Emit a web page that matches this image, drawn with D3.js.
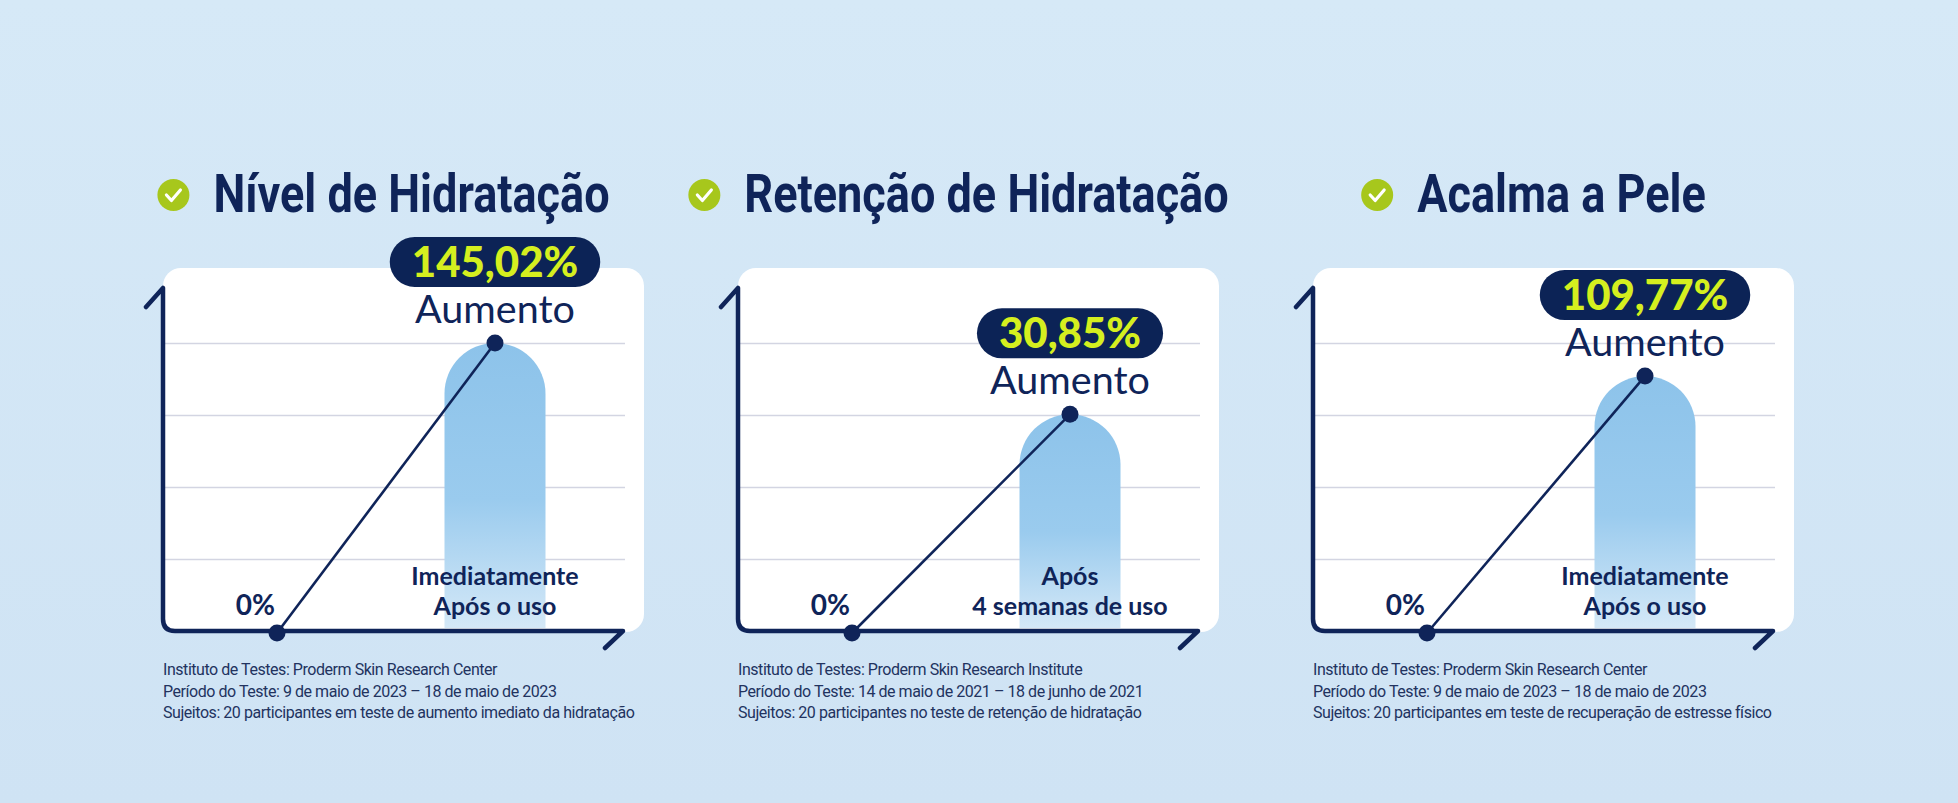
<!DOCTYPE html>
<html>
<head>
<meta charset="utf-8">
<script src="https://cdn.jsdelivr.net/npm/d3@7"></script>
<style>
	body { margin: 0; background: #d4e7f6; }
	svg { display: block; }
	.grid line { stroke: #d3d5e2; stroke-width: 1.5; }
	.grid .domain { display: none; }
</style>
</head>
<body>
<div class="claims"></div>
<script>

// chart values
const titles = ["Nível de Hidratação", "Retenção de Hidratação", "Acalma a Pele"];
const values = [145.02, 30.85, 109.77];
const valueLabels = ["145,02%", "30,85%", "109,77%"];
const axisMax = [145, 41, 124];
const baseLabel = "0%";
const valueCaption = "Aumento";
const periodLabels = [
	["Imediatamente", "Após o uso"],
	["Após", "4 semanas de uso"],
	["Imediatamente", "Após o uso"]
];
const notes = [
	["Instituto de Testes: Proderm Skin Research Center",
	 "Período do Teste: 9 de maio de 2023 – 18 de maio de 2023",
	 "Sujeitos: 20 participantes em teste de aumento imediato da hidratação"],
	["Instituto de Testes: Proderm Skin Research Institute",
	 "Período do Teste: 14 de maio de 2021 – 18 de junho de 2021",
	 "Sujeitos: 20 participantes no teste de retenção de hidratação"],
	["Instituto de Testes: Proderm Skin Research Center",
	 "Período do Teste: 9 de maio de 2023 – 18 de maio de 2023",
	 "Sujeitos: 20 participantes em teste de recuperação de estresse físico"]
];

const width = 1958;
const height = 803;
const navy = "#0f2459";
const baseY = 631;
const plotH = 288;
const axisTop = 288;
const barW = 101;

const panelX = d3.scaleBand().domain(titles).range([163, 1794]).paddingInner(0.1635);
const x = d3.scalePoint().domain(["antes", "depois"]).range([114, 332]);
const bw = panelX.bandwidth();

const svg = d3.select(".claims")
	.append("svg")
		.attr("width", width)
		.attr("height", height);

const defs = svg.append("defs");

const bgGrad = defs.append("linearGradient")
	.attr("id", "bg").attr("x1", 0).attr("y1", 0).attr("x2", 0).attr("y2", 1);
bgGrad.append("stop").attr("offset", 0).attr("stop-color", "#d6e9f7");
bgGrad.append("stop").attr("offset", 1).attr("stop-color", "#cfe3f4");

const barGrad = defs.append("linearGradient")
	.attr("id", "barFill").attr("x1", 0).attr("y1", 0).attr("x2", 0).attr("y2", 1);
barGrad.append("stop").attr("offset", 0).attr("stop-color", "#8dc3ea");
barGrad.append("stop").attr("offset", 0.55).attr("stop-color", "#9acbee");
barGrad.append("stop").attr("offset", 1).attr("stop-color", "#d4e8f7");

svg.append("rect")
	.attr("width", width)
	.attr("height", height)
	.attr("fill", "url(#bg)");

titles.forEach((t, i) => {
	const g = svg.append("g")
		.attr("class", "panel")
		.attr("transform", `translate(${panelX(t)},0)`);

	const y = d3.scaleLinear().domain([0, axisMax[i]]).range([baseY, baseY - plotH]);
	const top = y(values[i]);
	const cx = x("depois");

	// title with check icon
	const head = g.append("g");
	head.append("circle")
		.attr("cx", 16).attr("cy", 195).attr("r", 16)
		.attr("fill", "#a7c71c");
	head.append("path")
		.attr("d", "M9,195 L14,200.5 L23,190")
		.attr("fill", "none")
		.attr("stroke", "#fff")
		.attr("stroke-width", 3.2)
		.attr("stroke-linecap", "round")
		.attr("stroke-linejoin", "round");
	const titleText = head.append("text")
		.attr("transform", "translate(56,212) scale(0.85,1)")
		.attr("font-family", "Roboto, sans-serif")
		.attr("font-weight", 700)
		.attr("font-size", 53)
		.attr("fill", navy)
		.text(t);
	const headW = 56 + titleText.node().getComputedTextLength() * 0.85;
	head.attr("transform", `translate(${bw / 2 - 20 - headW / 2},0)`);

	// card
	g.append("rect")
		.attr("x", 0).attr("y", 268)
		.attr("width", bw).attr("height", 364)
		.attr("rx", 18)
		.attr("fill", "#fff");

	// grid lines
	g.append("g")
		.attr("class", "grid")
		.call(d3.axisLeft(y)
			.tickValues(d3.range(1, 5).map((k) => axisMax[i] * k / 4))
			.tickSize(-462)
			.tickFormat(""));

	// bar with rounded top
	const r = barW / 2;
	g.append("path")
		.attr("d", `M${cx - r},${baseY - 3} V${top + r} A${r},${r} 0 0 1 ${cx + r},${top + r} V${baseY - 3} Z`)
		.attr("fill", "url(#barFill)");

	// connecting line and points
	const pts = [[x("antes"), y(0) + 2], [cx, top]];
	g.append("path")
		.attr("d", d3.line()(pts))
		.attr("stroke", navy)
		.attr("stroke-width", 2.6)
		.attr("fill", "none");

	// axes
	g.append("path")
		.attr("d", `M-17,${axisTop + 19} L0,${axisTop} V${baseY - 12} Q0,${baseY} 12,${baseY} H460 L442,${baseY + 17}`)
		.attr("fill", "none")
		.attr("stroke", navy)
		.attr("stroke-width", 4.5)
		.attr("stroke-linecap", "round")
		.attr("stroke-linejoin", "round");

	g.selectAll(".pt")
		.data(pts).enter()
		.append("circle")
			.attr("class", "pt")
			.attr("cx", (d) => d[0])
			.attr("cy", (d) => d[1])
			.attr("r", 8.5)
			.attr("fill", navy);

	// value pill
	const pill = g.append("g").attr("transform", `translate(${cx},${top - 81})`);
	const pillText = pill.append("text")
		.attr("y", 15)
		.attr("text-anchor", "middle")
		.attr("font-family", "Lato, sans-serif")
		.attr("font-weight", 900)
		.attr("font-size", 42)
		.attr("fill", "#d5ef1f")
		.text(valueLabels[i]);
	const pw = pillText.node().getComputedTextLength() + 44;
	pill.insert("rect", "text")
		.attr("x", -pw / 2).attr("y", -25)
		.attr("width", pw).attr("height", 50)
		.attr("rx", 25)
		.attr("fill", "#0c2356");

	g.append("text")
		.attr("x", cx)
		.attr("y", top - 20)
		.attr("text-anchor", "middle")
		.attr("font-family", "Lato, sans-serif")
		.attr("font-size", 39.5)
		.attr("fill", navy)
		.text(valueCaption);

	// category labels
	g.append("text")
		.attr("x", x("antes") - 2)
		.attr("y", baseY - 16)
		.attr("text-anchor", "end")
		.attr("font-family", "Lato, sans-serif")
		.attr("font-weight", 700)
		.attr("font-size", 28)
		.attr("fill", navy)
		.text(baseLabel);

	// two-line period label
	g.selectAll(".period")
		.data(periodLabels[i]).enter()
		.append("text")
			.attr("class", "period")
			.attr("x", cx)
			.attr("y", (d, k) => baseY - 46.5 + k * 30.5)
			.attr("text-anchor", "middle")
			.attr("font-family", "Lato, sans-serif")
			.attr("font-weight", 700)
			.attr("font-size", 25)
			.attr("fill", navy)
			.text((d) => d);

	// footnotes
	g.selectAll(".note")
		.data(notes[i]).enter()
		.append("text")
			.attr("class", "note")
			.attr("x", 0)
			.attr("y", (d, k) => 675 + k * 21.5)
			.attr("font-family", "Roboto, sans-serif")
			.attr("font-size", 16)
			.attr("letter-spacing", -0.45)
			.attr("fill", "#22335f")
			.text((d) => d);
});

</script>
</body>
</html>
